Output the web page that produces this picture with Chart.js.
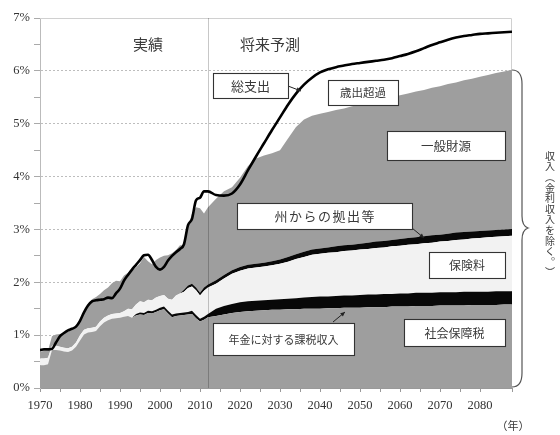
<!DOCTYPE html>
<html>
<head>
<meta charset="utf-8">
<script src="https://cdn.jsdelivr.net/npm/chart.js@4.4.1/dist/chart.umd.min.js"></script>
<style>
  body { margin: 0; background: #fff; }
</style>
</head>
<body>
<canvas id="chart" width="560" height="435"></canvas>
<script>
// years: annual for the actual period, every 2 years for the projection
var years = [
  1970,1971,1972,1973,1974,1975,1976,1977,1978,1979,
  1980,1981,1982,1983,1984,1985,1986,1987,1988,1989,
  1990,1991,1992,1993,1994,1995,1996,1997,1998,1999,
  2000,2001,2002,2003,2004,2005,2006,2007,2008,2009,
  2010,2011,2012,
  2014,2016,2018,2020,2022,2024,2026,2028,2030,2032,2034,2036,2038,2040,
  2042,2044,2046,2048,2050,2052,2054,2056,2058,2060,2062,2064,2066,2068,2070,
  2072,2074,2076,2078,2080,2082,2084,2086,2088
];

// upper edge of each band (% , stacked from the bottom)
var payrollTop = [
  0.43,0.43,0.45,0.72,0.72,0.71,0.69,0.68,0.71,0.78,
  0.90,1.01,1.05,1.06,1.08,1.17,1.24,1.28,1.31,1.32,
  1.33,1.35,1.36,1.33,1.37,1.39,1.38,1.42,1.41,1.44,
  1.47,1.49,1.41,1.34,1.36,1.37,1.38,1.39,1.40,1.32,
  1.26,1.29,1.34,
  1.36,1.39,1.42,1.44,1.45,1.46,1.47,1.48,1.48,1.49,1.49,1.50,1.50,1.50,
  1.51,1.51,1.52,1.52,1.52,1.53,1.53,1.53,1.54,1.54,1.54,1.55,1.55,1.55,1.56,
  1.56,1.56,1.56,1.57,1.57,1.57,1.57,1.58,1.58
];
var benefitTaxTop = [
  0.43,0.43,0.45,0.72,0.72,0.71,0.69,0.68,0.71,0.78,
  0.90,1.01,1.05,1.06,1.08,1.17,1.24,1.28,1.31,1.32,
  1.33,1.35,1.36,1.33,1.40,1.43,1.42,1.46,1.45,1.48,
  1.52,1.54,1.46,1.39,1.41,1.42,1.43,1.44,1.46,1.38,
  1.31,1.35,1.40,
  1.50,1.55,1.59,1.62,1.64,1.65,1.66,1.67,1.68,1.69,1.70,1.71,1.72,1.73,
  1.73,1.74,1.75,1.75,1.76,1.77,1.77,1.78,1.78,1.79,1.79,1.80,1.80,1.80,1.81,
  1.81,1.81,1.82,1.82,1.82,1.82,1.83,1.83,1.83
];
var premiumTop = [
  0.56,0.56,0.57,0.80,0.80,0.78,0.76,0.75,0.78,0.86,
  1.00,1.10,1.13,1.14,1.16,1.26,1.33,1.37,1.40,1.41,
  1.42,1.45,1.50,1.49,1.58,1.64,1.62,1.67,1.66,1.71,
  1.74,1.76,1.69,1.67,1.75,1.79,1.82,1.89,1.92,1.85,
  1.75,1.84,1.90,
  1.97,2.07,2.16,2.22,2.26,2.28,2.30,2.32,2.35,2.39,2.44,2.48,2.52,2.54,
  2.56,2.57,2.59,2.60,2.62,2.63,2.65,2.66,2.68,2.69,2.71,2.72,2.74,2.75,2.77,
  2.78,2.80,2.81,2.83,2.84,2.85,2.86,2.87,2.88
];
var stateTop = [
  0.56,0.56,0.57,0.80,0.80,0.78,0.76,0.75,0.78,0.86,
  1.00,1.10,1.13,1.14,1.16,1.26,1.33,1.37,1.40,1.41,
  1.42,1.45,1.50,1.49,1.58,1.64,1.62,1.67,1.66,1.71,
  1.74,1.76,1.69,1.67,1.75,1.79,1.86,1.94,1.97,1.90,
  1.80,1.90,1.96,
  2.04,2.14,2.23,2.29,2.33,2.35,2.37,2.40,2.43,2.48,2.53,2.58,2.62,2.64,
  2.66,2.68,2.70,2.71,2.73,2.75,2.77,2.78,2.80,2.82,2.84,2.85,2.87,2.89,2.90,
  2.92,2.94,2.95,2.96,2.97,2.98,2.99,3.00,3.01
];
var revenueTop = [
  0.69,0.70,0.71,0.98,1.01,1.02,1.03,1.07,1.10,1.16,
  1.27,1.45,1.58,1.68,1.72,1.78,1.85,1.90,1.98,2.03,
  2.02,2.13,2.18,2.22,2.28,2.36,2.48,2.40,2.34,2.42,
  2.47,2.50,2.51,2.55,2.61,2.70,2.70,3.04,3.30,3.42,
  3.40,3.30,3.42,
  3.58,3.72,3.80,3.98,4.20,4.34,4.40,4.44,4.50,4.72,4.94,5.08,5.15,5.19,
  5.22,5.26,5.29,5.33,5.36,5.40,5.43,5.47,5.50,5.54,5.57,5.61,5.64,5.68,5.71,
  5.75,5.78,5.82,5.85,5.89,5.92,5.96,5.99,6.02
];
var totalSpending = [
  0.72,0.73,0.73,0.74,0.86,0.98,1.04,1.09,1.12,1.16,
  1.27,1.43,1.56,1.64,1.66,1.67,1.68,1.71,1.70,1.79,
  1.88,2.03,2.14,2.24,2.33,2.42,2.51,2.52,2.42,2.29,
  2.24,2.29,2.41,2.50,2.57,2.63,2.72,3.08,3.20,3.55,
  3.60,3.72,3.72,
  3.65,3.64,3.68,3.85,4.12,4.38,4.63,4.88,5.12,5.36,5.57,5.74,5.87,5.97,
  6.03,6.07,6.10,6.13,6.15,6.17,6.19,6.21,6.24,6.28,6.32,6.37,6.43,6.49,6.54,
  6.59,6.63,6.66,6.68,6.70,6.71,6.72,6.73,6.74
];

var xLabelYears = [1970,1980,1990,2000,2010,2020,2030,2040,2050,2060,2070,2080];
var yLabelValues = [0,1,2,3,4,5,6,7];
var splitYear = 2011.9;

var GRAY = '#9e9e9e';
var LIGHT = '#f2f2f2';
var BLACK = '#080808';
var TEXT = '#3a3a3a';
var JP = '"Noto Sans CJK JP", sans-serif';
var NUM = '"Liberation Serif", "DejaVu Serif", serif';

function pts(arr) {
  return years.map(function (yr, i) { return { x: yr, y: arr[i] }; });
}

function area(label, arr, fill, color) {
  return {
    label: label, data: pts(arr), fill: fill,
    backgroundColor: color, borderWidth: 0, pointRadius: 0
  };
}

function box(ctx, x, y, w, h, text, size, spacing) {
  ctx.fillStyle = '#fff';
  ctx.fillRect(x, y, w, h);
  ctx.strokeStyle = '#333';
  ctx.lineWidth = 1.1;
  ctx.strokeRect(x + 0.5, y + 0.5, w, h);
  ctx.fillStyle = TEXT;
  ctx.font = size + 'px ' + JP;
  ctx.letterSpacing = (spacing || 0) + 'px';
  ctx.textAlign = 'center';
  ctx.textBaseline = 'middle';
  ctx.fillText(text, x + w / 2 + (spacing || 0) / 2, y + h / 2 + 0.5);
  ctx.letterSpacing = '0px';
}

function arrow(ctx, x1, y1, x2, y2) {
  var a = Math.atan2(y2 - y1, x2 - x1);
  ctx.strokeStyle = '#222';
  ctx.fillStyle = '#222';
  ctx.lineWidth = 1;
  ctx.beginPath();
  ctx.moveTo(x1, y1);
  ctx.lineTo(x2, y2);
  ctx.stroke();
  ctx.beginPath();
  ctx.moveTo(x2, y2);
  ctx.lineTo(x2 - 5 * Math.cos(a - 0.45), y2 - 5 * Math.sin(a - 0.45));
  ctx.lineTo(x2 - 5 * Math.cos(a + 0.45), y2 - 5 * Math.sin(a + 0.45));
  ctx.closePath();
  ctx.fill();
}

var decor = {
  id: 'decor',
  beforeDatasetsDraw: function (chart) {
    var ctx = chart.ctx, a = chart.chartArea;
    ctx.save();
    ctx.strokeStyle = '#d0d0d0';
    ctx.lineWidth = 1;
    ctx.beginPath();
    ctx.moveTo(a.left, a.top + 0.5);
    ctx.lineTo(a.right - 0.5, a.top + 0.5);
    ctx.lineTo(a.right - 0.5, a.bottom);
    ctx.stroke();
    ctx.restore();
  },
  afterDatasetsDraw: function (chart) {
    var ctx = chart.ctx, a = chart.chartArea;
    var x = Math.round(chart.scales.x.getPixelForValue(splitYear)) + 0.5;
    ctx.save();
    ctx.strokeStyle = 'rgba(0,0,0,0.22)';
    ctx.lineWidth = 1;
    ctx.beginPath();
    ctx.moveTo(x, a.top);
    ctx.lineTo(x, a.bottom);
    ctx.stroke();
    ctx.restore();
  },
  afterDraw: function (chart) {
    var ctx = chart.ctx;
    ctx.save();
    ctx.fillStyle = TEXT;
    ctx.font = '15px ' + JP;
    ctx.textAlign = 'center';
    ctx.textBaseline = 'middle';
    ctx.fillText('実績', 148, 44);
    ctx.fillText('将来予測', 270, 44);

    arrow(ctx, 288, 86, 301, 91);
    arrow(ctx, 412, 228, 424, 238);
    arrow(ctx, 333, 322, 345, 312);

    box(ctx, 213, 73, 75, 25, '総支出', 13);
    box(ctx, 328, 80, 70, 25, '歳出超過', 11.5);
    box(ctx, 387, 131, 118, 29, '一般財源', 12.5);
    box(ctx, 237, 203, 175, 26, '州からの拠出等', 13, 1.5);
    box(ctx, 429, 252, 76, 26, '保険料', 12);
    box(ctx, 404, 319, 101, 27, '社会保障税', 12);
    box(ctx, 213, 323, 141, 32, '年金に対する課税収入', 11);

    // brace
    ctx.strokeStyle = '#555';
    ctx.lineWidth = 1.2;
    ctx.beginPath();
    ctx.moveTo(512, 70);
    ctx.quadraticCurveTo(522, 70, 522, 84);
    ctx.lineTo(522, 216);
    ctx.quadraticCurveTo(522, 226, 528, 228);
    ctx.quadraticCurveTo(522, 230, 522, 240);
    ctx.lineTo(522, 373);
    ctx.quadraticCurveTo(522, 387, 512, 387);
    ctx.stroke();

    // vertical caption
    var chars = ['収','入','︵','金','利','収','入','を','除','く','︒','︶'];
    ctx.fillStyle = TEXT;
    ctx.font = '10px ' + JP;
    for (var i = 0; i < chars.length; i++) {
      ctx.fillText(chars[i], 550, 156 + i * 10.6);
    }

    ctx.font = '11px ' + JP;
    ctx.fillText('（年）', 513, 426);
    ctx.restore();
  }
};

new Chart(document.getElementById('chart'), {
  type: 'line',
  data: {
    datasets: [
      area('社会保障税', payrollTop, 'origin', GRAY),
      area('年金に対する課税収入', benefitTaxTop, '-1', BLACK),
      area('保険料', premiumTop, '-1', LIGHT),
      area('州からの拠出等', stateTop, '-1', BLACK),
      area('一般財源', revenueTop, '-1', GRAY),
      {
        label: '総支出', data: pts(totalSpending), fill: false,
        borderColor: '#000', borderWidth: 2.6, pointRadius: 0,
        cubicInterpolationMode: 'monotone', order: -1
      }
    ]
  },
  options: {
    responsive: false,
    animation: false,
    layout: { padding: { top: 18, right: 48, left: 0, bottom: 0 } },
    plugins: { legend: { display: false }, tooltip: { enabled: false } },
    scales: {
      x: {
        type: 'linear', min: 1970, max: 2088,
        afterFit: function (s) { s.height = 47; },
        border: { color: '#999' },
        grid: { drawOnChartArea: false, tickLength: 4, tickColor: '#999' },
        ticks: {
          stepSize: 5, autoSkip: false, maxRotation: 0, padding: 6,
          color: '#333', font: { family: NUM, size: 12.5 },
          callback: function (v) { return xLabelYears.indexOf(v) >= 0 ? String(v) : ''; }
        }
      },
      y: {
        min: 0, max: 7,
        afterFit: function (s) { s.width = 40; },
        border: { color: '#bbb', dash: [2, 2] },
        grid: {
          tickLength: 6, tickColor: '#aaa',
          color: function (c) {
            var v = c.tick.value;
            return (Number.isInteger(v) && v > 0 && v < 7) ? '#bdbdbd' : 'rgba(0,0,0,0)';
          }
        },
        ticks: {
          stepSize: 0.5, padding: 4, color: '#333',
          font: { family: NUM, size: 12.5 },
          callback: function (v) { return yLabelValues.indexOf(v) >= 0 ? v + '%' : ''; }
        }
      }
    }
  },
  plugins: [decor]
});
</script>
</body>
</html>
